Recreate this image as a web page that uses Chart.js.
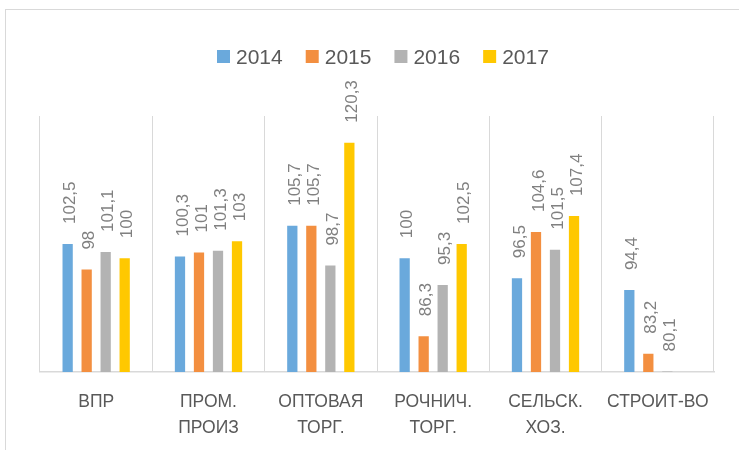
<!DOCTYPE html>
<html>
<head>
<meta charset="utf-8">
<script src="https://cdn.jsdelivr.net/npm/chart.js@4.4.1/dist/chart.umd.min.js"></script>
<style>
  html, body { margin:0; padding:0; background:#fff; overflow:hidden; }
  #frame { position:absolute; left:5px; top:9px; width:800px; height:600px; border:1px solid #d9d9d9; box-sizing:border-box; }
  #wrap  { position:absolute; left:0; top:0; width:739px; height:450px; }
</style>
</head>
<body>
<div id="frame"></div>
<div id="wrap"><canvas id="c"></canvas></div>
<script>
const categories = ['ВПР', ['ПРОМ.', 'ПРОИЗ'], ['ОПТОВАЯ', 'ТОРГ.'], ['РОЧНИЧ.', 'ТОРГ.'], ['СЕЛЬСК.', 'ХОЗ.'], 'СТРОИТ-ВО'];
const years = ['2014', '2015', '2016', '2017'];
const v2014 = [102.5, 100.3, 105.7, 100,   96.5, 94.4];
const v2015 = [98,    101,   105.7, 86.3, 104.6, 83.2];
const v2016 = [101.1, 101.3, 98.7,  95.3, 101.5, 80.1];
const v2017 = [100,   103,   120.3, 102.5, 107.4, null];

const COL = ['#6AA9DC', '#F38F40', '#B3B3B3', '#FFC800'];
const FONT = "'Liberation Sans', Arial, sans-serif";

// rotated value labels above bars
const valueLabels = {
  id: 'valueLabels',
  afterDatasetsDraw(chart) {
    const ctx = chart.ctx;
    ctx.save();
    ctx.font = '17px ' + FONT;
    ctx.fillStyle = '#808080';
    ctx.textAlign = 'left';
    ctx.textBaseline = 'middle';
    chart.data.datasets.forEach((ds, i) => {
      chart.getDatasetMeta(i).data.forEach((bar, j) => {
        const v = ds.data[j];
        if (v == null) return;
        ctx.save();
        ctx.translate(bar.x + 3, bar.y - 20);
        ctx.rotate(-Math.PI / 2);
        ctx.fillText(String(v).replace('.', ','), 0, 0);
        ctx.restore();
      });
    });
    ctx.restore();
  }
};

// category labels (two lines) and the legend, placed like the original
const texts = {
  id: 'texts',
  afterDraw(chart) {
    const ctx = chart.ctx;
    const xs = chart.scales.x;
    const bottom = chart.chartArea.bottom;
    ctx.save();
    ctx.fillStyle = '#595959';
    ctx.textBaseline = 'middle';

    ctx.font = '17.5px ' + FONT;
    ctx.textAlign = 'center';
    chart.data.labels.forEach((lab, i) => {
      const lines = Array.isArray(lab) ? lab : [lab];
      const x = xs.getPixelForTick(i);
      lines.forEach((ln, k) => ctx.fillText(ln, x, bottom + 30 + k * 26));
    });

    ctx.font = '21px ' + FONT;
    ctx.textAlign = 'left';
    let x = 217;
    chart.data.datasets.forEach(ds => {
      ctx.fillStyle = ds.backgroundColor;
      ctx.fillRect(x, 50, 13, 13);
      ctx.fillStyle = '#595959';
      ctx.fillText(ds.label, x + 19, 58);
      x += 19 + ctx.measureText(ds.label).width + 23;
    });
    ctx.restore();
  }
};

new Chart(document.getElementById('c'), {
  type: 'bar',
  data: {
    labels: categories,
    datasets: [v2014, v2015, v2016, v2017].map((d, i) => ({
      label: years[i],
      data: d,
      backgroundColor: COL[i],
      categoryPercentage: 0.677,
      barPercentage: 0.54,
    })),
  },
  options: {
    responsive: true, maintainAspectRatio: false, animation: false,
    layout: { padding: { left: 40, right: 25, top: 116, bottom: 78 } },
    plugins: { legend: { display: false }, tooltip: { enabled: false } },
    scales: {
      x: {
        grid: { color: '#d9d9d9', lineWidth: 1, drawTicks: false, offset: true },
        border: { color: '#d9d9d9', width: 1.5 },
        ticks: { display: false },
      },
      y: { display: false, min: 80, max: 125 },
    },
  },
  plugins: [valueLabels, texts],
});
</script>
</body>
</html>
